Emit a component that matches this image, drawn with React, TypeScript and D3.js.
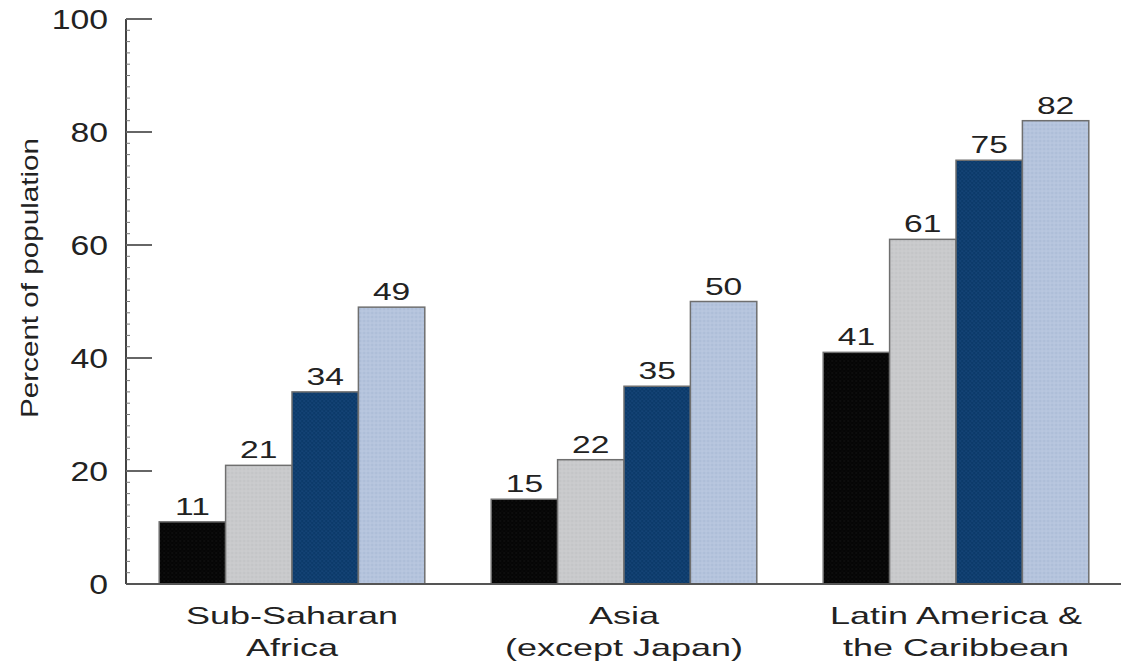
import React from "react";
import * as d3 from "d3";

const categories: string[][] = [
  ["Sub-Saharan", "Africa"],
  ["Asia", "(except Japan)"],
  ["Latin America &", "the Caribbean"],
];
const seriesNames = ["s1", "s2", "s3", "s4"];
const s1 = [11, 15, 41];
const s2 = [21, 22, 61];
const s3 = [34, 35, 75];
const s4 = [49, 50, 82];
const seriesValues = [s1, s2, s3, s4];
const yTicks = [0, 20, 40, 60, 80, 100];
const yLabel = "Percent of population";

const colors = ["#050505", "#c9cacc", "#0c3a6a", "#b5c4dd"];
const W = 1121;
const H = 665;

export default function App() {
  const x0 = d3
    .scaleBand<number>()
    .domain(categories.map((_, i) => i))
    .range([126, 1122])
    .paddingInner(0.2)
    .paddingOuter(0.1);
  const x1 = d3
    .scaleBand<string>()
    .domain(seriesNames)
    .range([0, x0.bandwidth()])
    .padding(0);
  const y = d3.scaleLinear().domain([0, 100]).range([584, 19]);
  const minor = d3.range(0, 101, 2);

  return (
    <svg
      width={W}
      height={H}
      style={{ position: "absolute", left: 0, top: 0, background: "#fff" }}
      fontFamily="'Liberation Sans', Arial, Helvetica, sans-serif"
    >
      <defs>
        {colors.map((c, i) => (
          <pattern
            key={i}
            id={`pat${i}`}
            width={4}
            height={4}
            patternUnits="userSpaceOnUse"
          >
            <rect width={4} height={4} fill={c} />
            <circle
              cx={1}
              cy={1}
              r={0.7}
              fill={i === 0 ? "#1a1a1a" : i === 2 ? "#1e4f85" : i === 3 ? "#a2b3cf" : "#bdbec0"}
            />
            <circle
              cx={3}
              cy={3}
              r={0.6}
              fill={i === 0 ? "#111" : i === 2 ? "#2a5c92" : i === 3 ? "#c6d2e6" : "#d3d3d5"}
            />
          </pattern>
        ))}
      </defs>

      {/* Y axis */}
      <line x1={126} x2={126} y1={y(100)} y2={y(0)} stroke="#444" strokeWidth={2} />
      {minor.map((t) => (
        <line key={"m" + t} x1={126} x2={130} y1={y(t)} y2={y(t)} stroke="#777" strokeWidth={1} />
      ))}
      {yTicks.map((t) => (
        <g key={t}>
          {t > 0 && (
            <line x1={126} x2={152} y1={y(t)} y2={y(t)} stroke="#666" strokeWidth={2} />
          )}
          <text
            transform={`translate(108,${y(t) + 10}) scale(1.25,1)`}
            textAnchor="end"
            fontSize={27}
            fill="#222"
          >
            {t}
          </text>
        </g>
      ))}
      <text
        transform={`translate(38,278) rotate(-90)`}
        textAnchor="middle"
        fontSize={24}
        fill="#222"
        textLength={280}
        lengthAdjust="spacingAndGlyphs"
      >
        {yLabel}
      </text>

      {/* Bars */}
      {categories.map((cat, ci) => (
        <g key={ci} transform={`translate(${x0(ci)},0)`}>
          {seriesValues.map((vals, si) => {
            const v = vals[ci];
            const bx = x1(seriesNames[si])!;
            const bw = x1.bandwidth();
            return (
              <g key={si}>
                <rect
                  x={bx}
                  y={y(v)}
                  width={bw}
                  height={y(0) - y(v)}
                  fill={`url(#pat${si})`}
                  stroke="#6f6f6f"
                  strokeWidth={1.5}
                />
                <text
                  transform={`translate(${bx + bw / 2},${y(v) - 7}) scale(1.4,1)`}
                  textAnchor="middle"
                  fontSize={24}
                  fill="#222"
                >
                  {v}
                </text>
              </g>
            );
          })}
          {cat.map((line, li) => (
            <text
              key={li}
              transform={`translate(${x0.bandwidth() / 2},${624 + li * 32}) scale(1.5,1)`}
              textAnchor="middle"
              fontSize={24}
              fill="#222"
            >
              {line}
            </text>
          ))}
        </g>
      ))}

      {/* X axis */}
      <line x1={126} x2={1121} y1={y(0)} y2={y(0)} stroke="#555" strokeWidth={2} />
    </svg>
  );
}
